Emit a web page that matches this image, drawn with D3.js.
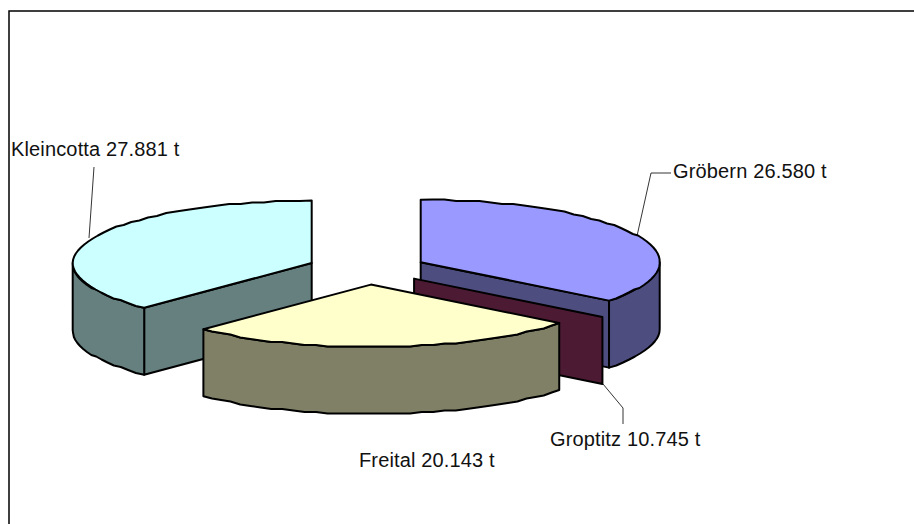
<!DOCTYPE html>
<html>
<head>
<meta charset="utf-8">
<script src="https://cdn.jsdelivr.net/npm/d3@7"></script>
<style>
    html, body { margin: 0; background: #fff; }
    svg { display: block; }
    text { font-family: "Liberation Sans", Arial, sans-serif; font-size: 20px; letter-spacing: 0.15px; fill: #111; }
</style>
</head>
<body>
<svg id="chart" width="914" height="524"></svg>
<script>
const places = ["Gröbern", "Groptitz", "Freital", "Kleincotta"];
const tons = [26580, 10745, 20143, 27881];
// sweep of each slice in degrees as it is drawn in the picture (not proportional to tons)
const sweeps = [128, 0, 96.5, 135.5];
const topColors = ["#9999ff", "#993366", "#ffffcc", "#ccffff"];
const sideColors = ["#4d4d80", "#4d1a33", "#808066", "#668080"];

const explode = 0.25;
const wallHeight = 67;

let svg = d3.select("#chart");

// unit disc -> screen
let x = d3.scaleLinear().domain([-1, 1]).range([128, 606]);
let y = d3.scaleLinear().domain([-1, 1]).range([331.5, 206.5]);

let fmt = d3.formatLocale({ decimal: ",", thousands: ".", grouping: [3], currency: ["", ""] }).format(",d");

let slices = d3.pie().sort(null).value(function (d) { return d; })(sweeps);

function apex(s) {
    let mid = (s.startAngle + s.endAngle) / 2;
    return [explode * Math.sin(mid), explode * Math.cos(mid)];
}

// the source chart was drawn on a coarse grid, which gives its arcs their wobble
function snap(p) {
    return [p[0], Math.round(p[1] / 1.5) * 1.5];
}

function arcPoints(s, a0, a1) {
    let c = apex(s);
    let n = Math.max(1, Math.round(Math.abs(a1 - a0) / 0.05));
    return d3.range(n + 1).map(function (i) {
        let a = a0 + (a1 - a0) * i / n;
        let p = [x(c[0] + Math.sin(a)), y(c[1] + Math.cos(a))];
        return (i === 0 || i === n) ? p : snap(p);
    });
}

function corner(s, a) {
    let c = apex(s);
    return [x(c[0] + Math.sin(a)), y(c[1] + Math.cos(a))];
}

function centre(s) {
    let c = apex(s);
    return [x(c[0]), y(c[1])];
}

function down(p) {
    return [p[0], p[1] + wallHeight];
}

let line = d3.line();

function face(points, fill) {
    svg.append("path")
        .attr("d", line(points) + "Z")
        .attr("fill", fill)
        .attr("stroke", "#000")
        .attr("stroke-width", 2)
        .attr("stroke-linejoin", "round");
}

// frame, only top and left
svg.append("path")
    .attr("d", "M9,524V11H914")
    .attr("fill", "none")
    .attr("stroke", "#000")
    .attr("stroke-width", 1.5);

// Kleincotta, Groebern, Groptitz, Freital: back to front
[3, 0, 1, 2].forEach(function (i) {
    let s = slices[i];
    let c = centre(s);
    let a = s.startAngle, b = s.endAngle;

    if (i === 0) {
        // cut face, then outer wall from the rightmost point round to the cut
        let e = corner(s, b);
        face([c, e, down(e), down(c)], sideColors[i]);
        let wall = arcPoints(s, Math.PI / 2, b);
        face(wall.concat(wall.slice().reverse().map(down)), sideColors[i]);
    } else if (i === 1) {
        let e = corner(s, a);
        face([c, e, down(e), down(c)], sideColors[i]);
        return;
    } else if (i === 2) {
        let wall = arcPoints(s, a, b);
        face(wall.concat(wall.slice().reverse().map(down)), sideColors[i]);
    } else {
        let e = corner(s, a);
        face([c, e, down(e), down(c)], sideColors[i]);
        let wall = arcPoints(s, a, 1.5 * Math.PI);
        face(wall.concat(wall.slice().reverse().map(down)), sideColors[i]);
    }
    face([c].concat(arcPoints(s, a, b)), topColors[i]);
});

// leader lines
let leaders = [
    [[671, 173], [651, 173], [637, 236]],
    [[603, 384], [623, 408], [623, 424]],
    null,
    [[94, 167], [89, 238]]
];
leaders.forEach(function (l) {
    if (!l) return;
    svg.append("path")
        .attr("d", line(l))
        .attr("fill", "none")
        .attr("stroke", "#000")
        .attr("stroke-width", 0.8);
});

let labelPos = [[673, 178], [550, 446], [359, 467], [11, 156]];
svg.selectAll("text.label")
    .data(places)
    .join("text")
    .attr("class", "label")
    .attr("x", function (d, i) { return labelPos[i][0]; })
    .attr("y", function (d, i) { return labelPos[i][1]; })
    .text(function (d, i) { return d + " " + fmt(tons[i]) + " t"; });
</script>
</body>
</html>
